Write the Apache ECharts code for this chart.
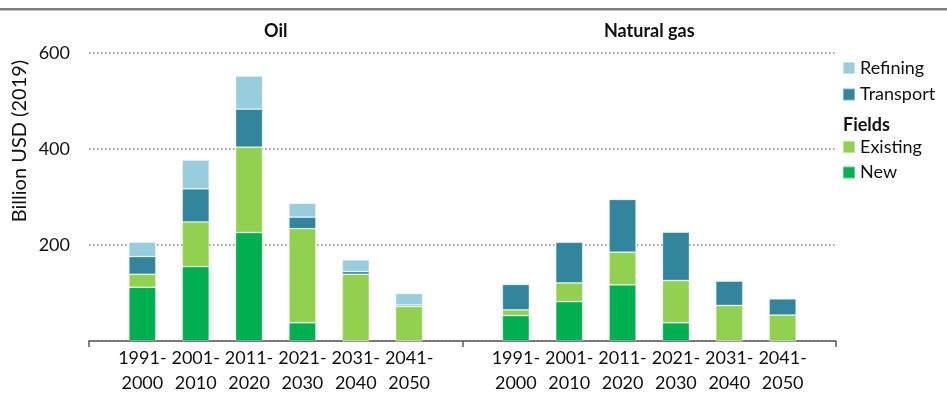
<!DOCTYPE html>
<html>
<head>
<meta charset="utf-8">
<script src="https://cdn.jsdelivr.net/npm/echarts@6/dist/echarts.min.js"></script>
<style>
  html, body { margin: 0; padding: 0; background: #fff; }
  #chart { width: 947px; height: 396px; }
</style>
</head>
<body>
<div id="chart"></div>
<script>
// Decades on the horizontal axis (same for both fuels)
const periods = ['1991-\n2000', '2001-\n2010', '2011-\n2020', '2021-\n2030', '2031-\n2040', '2041-\n2050'];
const groups = ['Oil', 'Natural gas'];

// Investment, billion USD (2019)
const oilNew       = [112, 155, 226, 38, 0, 0];
const oilExisting  = [27, 93, 178, 196, 139, 72];
const oilTransport = [37, 69, 79, 24, 6, 3];
const oilRefining  = [30, 60, 69, 29, 24, 24];

const gasNew       = [53, 82, 117, 38, 0, 0];
const gasExisting  = [12, 39, 68, 88, 74, 54];
const gasTransport = [53, 85, 110, 101, 51, 34];
const gasRefining  = [0, 0, 0, 0, 0, 0];

const yTicks = [0, 200, 400, 600];

// One shared category axis: spacer, oil decades, spacer, gas decades, spacer
const categories = [''].concat(periods, [''], periods, ['']);
const join = (a, b) => ['-'].concat(a, ['-'], b, ['-']);

const FONT = 'Lato, "Open Sans", sans-serif';
const colors = {
  Refining: '#97CDDD',
  Transport: '#31859C',
  Existing: '#92D050',
  New: '#00B050'
};

const barSeries = (name, data) => ({
  name: name,
  type: 'bar',
  stack: 'total',
  barWidth: 27,
  data: data,
  itemStyle: { color: colors[name], borderColor: 'rgba(255,255,255,0.4)', borderWidth: 0.8 },
  emphasis: { disabled: true }
});

const chart = echarts.init(document.getElementById('chart'), null, { renderer: 'canvas' });

const gridLeft = 89, gridRight = 111, gridTop = 53, gridBottom = 55;
const plotW = 947 - gridLeft - gridRight;

const legendText = { fontFamily: FONT, fontSize: 18, lineHeight: 20, color: '#111' };

chart.setOption({
  animation: false,
  textStyle: { fontFamily: FONT },
  grid: { left: gridLeft, right: gridRight, top: gridTop, bottom: gridBottom },
  xAxis: {
    type: 'category',
    data: categories,
    boundaryGap: false,
    axisLine: { lineStyle: { color: '#595959', width: 1.5 } },
    axisTick: {
      show: true,
      length: 6,
      interval: (idx) => idx % 7 === 0,
      lineStyle: { color: '#595959', width: 1.5 }
    },
    axisLabel: {
      interval: 0,
      fontFamily: FONT,
      fontSize: 18,
      lineHeight: 25,
      color: '#111',
      margin: 5
    },
    splitLine: { show: false }
  },
  yAxis: {
    type: 'value',
    min: yTicks[0],
    max: yTicks[yTicks.length - 1],
    interval: 200,
    axisLine: { show: false },
    axisTick: { show: false },
    axisLabel: {
      fontFamily: FONT,
      fontSize: 18,
      color: '#111',
      margin: 19,
      formatter: (v) => (v === 0 ? '' : String(v))
    },
    splitLine: {
      show: true,
      lineStyle: { color: '#808080', width: 1.5, type: [1.5, 2.5] }
    }
  },
  legend: [
    {
      data: ['Refining', 'Transport'],
      orient: 'vertical',
      left: 842,
      top: 58,
      padding: 0,
      itemWidth: 12,
      itemHeight: 12,
      itemGap: 6.5,
      icon: 'rect',
      selectedMode: false,
      textStyle: legendText
    },
    {
      data: ['Existing', 'New'],
      orient: 'vertical',
      left: 842,
      top: 137,
      padding: 0,
      itemWidth: 12,
      itemHeight: 12,
      itemGap: 5.5,
      icon: 'rect',
      selectedMode: false,
      textStyle: legendText
    }
  ],
  graphic: [
    {
      type: 'rect',
      shape: { x: 0, y: 8, width: 947, height: 2.5 },
      style: { fill: '#7f7f7f' },
      silent: true
    },
    {
      type: 'text',
      x: gridLeft + plotW * 0.25,
      y: 31.5,
      style: {
        text: groups[0], font: 'bold 18px ' + FONT, fill: '#111',
        align: 'center', verticalAlign: 'middle'
      }
    },
    {
      type: 'text',
      x: gridLeft + plotW * 0.75,
      y: 31.5,
      style: {
        text: groups[1], font: 'bold 18px ' + FONT, fill: '#111',
        align: 'center', verticalAlign: 'middle'
      }
    },
    {
      type: 'text',
      x: 843,
      y: 125,
      style: {
        text: 'Fields', font: 'bold 18px ' + FONT, fill: '#111',
        align: 'left', verticalAlign: 'middle'
      }
    },
    {
      type: 'text',
      x: 20,
      y: 141,
      rotation: Math.PI / 2,
      style: {
        text: 'Billion USD (2019)', font: '20px ' + FONT, fill: '#111',
        align: 'center', verticalAlign: 'middle'
      }
    }
  ],
  series: [
    barSeries('New', join(oilNew, gasNew)),
    barSeries('Existing', join(oilExisting, gasExisting)),
    barSeries('Transport', join(oilTransport, gasTransport)),
    barSeries('Refining', join(oilRefining, gasRefining))
  ]
});
</script>
</body>
</html>
